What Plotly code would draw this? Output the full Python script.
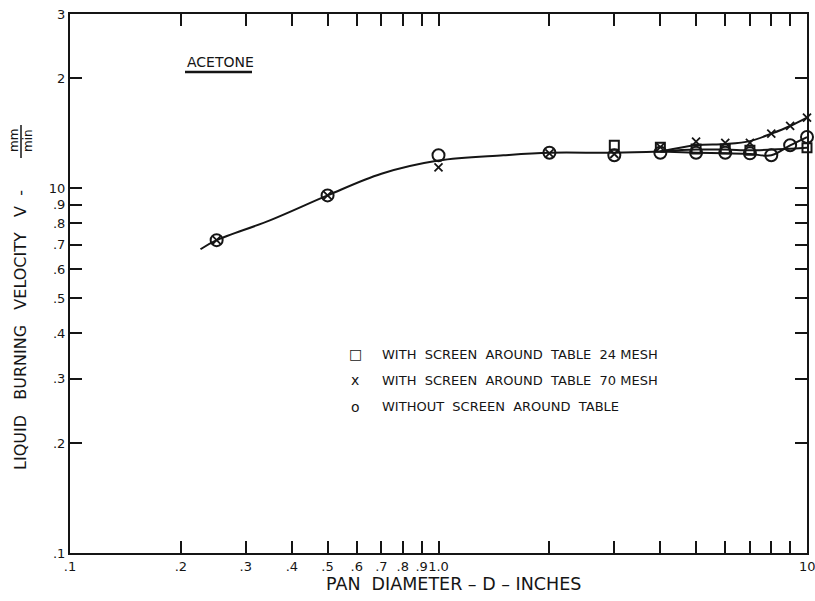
import plotly.graph_objects as go
import math

# ---- data ----
x_sq = [3, 4, 5, 6, 7, 10]
y_sq = [13.1, 12.95, 12.8, 12.8, 12.7, 12.9]

x_x = [0.25, 0.5, 1.0, 2.0, 3.0, 4.0, 5.0, 6.0, 7.0, 8.0, 9.0, 10.0]
y_x = [7.2, 9.55, 11.4, 12.45, 12.4, 12.95, 13.4, 13.3, 13.3, 14.1, 14.8, 15.6]

x_o = [0.25, 0.5, 1.0, 2.0, 3.0, 4.0, 5.0, 6.0, 7.0, 8.0, 9.0, 10.0]
y_o = [7.2, 9.55, 12.3, 12.5, 12.3, 12.5, 12.5, 12.5, 12.45, 12.3, 13.1, 13.8]

# fitted curve
curve_x = [0.226, 0.25, 0.35, 0.5, 0.7, 1.0, 1.5, 2.0, 3.0, 4.0]
curve_y = [6.8, 7.2, 8.17, 9.55, 10.95, 11.9, 12.3, 12.5, 12.5, 12.6]
br_x_x = [4.0, 5.0, 6.0, 7.0, 8.0, 9.0, 10.0]
br_x_y = [12.6, 13.1, 13.2, 13.45, 14.1, 14.8, 15.6]
br_sq_x = [4.0, 5.0, 6.0, 7.0, 8.0, 10.0]
br_sq_y = [12.6, 12.75, 12.75, 12.7, 12.75, 12.9]
br_o_x = [4.0, 5.0, 6.0, 7.0, 8.0, 9.0, 10.0]
br_o_y = [12.6, 12.5, 12.45, 12.4, 12.3, 13.1, 13.8]

x_tickvals = [0.1, 0.2, 0.3, 0.4, 0.5, 0.6, 0.7, 0.8, 0.9, 1.0, 2, 3, 4, 5, 6, 7, 8, 9, 10]
x_ticktext = [".1", ".2", ".3", ".4", ".5", ".6", ".7", ".8", ".9", "1.0", "", "", "", "", "", "", "", "", "10"]
y_tickvals = [1, 2, 3, 4, 5, 6, 7, 8, 9, 10, 20, 30]
y_ticktext = [".1", ".2", ".3", ".4", ".5", ".6", ".7", ".8", ".9", "10", "2", "3"]

legend_labels = ["WITH  SCREEN  AROUND  TABLE  24 MESH",
                 "WITH  SCREEN  AROUND  TABLE  70 MESH",
                 "WITHOUT  SCREEN  AROUND  TABLE"]
legend_symbols = ["\u25a1", "x", "o"]

INK = "#151515"
FONT = "DejaVu Sans"

fig = go.Figure()
for cx, cy in [(curve_x, curve_y), (br_x_x, br_x_y), (br_sq_x, br_sq_y), (br_o_x, br_o_y)]:
    fig.add_trace(go.Scatter(x=cx, y=cy, mode="lines", line=dict(color=INK, width=2, shape="spline"),
                             showlegend=False, hoverinfo="skip", cliponaxis=False))
fig.add_trace(go.Scatter(x=x_sq, y=y_sq, mode="markers", cliponaxis=False,
                         marker=dict(symbol="square-open", size=9, color=INK, line=dict(width=2)),
                         showlegend=False))
fig.add_trace(go.Scatter(x=x_o, y=y_o, mode="markers", cliponaxis=False,
                         marker=dict(symbol="circle-open", size=12, color=INK, line=dict(width=2)),
                         showlegend=False))
fig.add_trace(go.Scatter(x=x_x, y=y_x, mode="markers", cliponaxis=False,
                         marker=dict(symbol="x-thin-open", size=8, color=INK, line=dict(width=1.8)),
                         showlegend=False))

L, R, T, B = 70, 8, 14, 48
W, H = 815, 601
pw, ph = W - L - R, H - T - B

def px(xp):
    return (xp - L) / pw

def py(yp):
    return (H - B - yp) / ph

ann = []
# legend
for i, (s, lab) in enumerate(zip(legend_symbols, legend_labels)):
    yy = 354 + i * 26.5
    ann.append(dict(x=px(355), y=py(yy), xref="paper", yref="paper", text=s, showarrow=False,
                    xanchor="center", yanchor="middle", font=dict(family=FONT, size=14, color=INK)))
    ann.append(dict(x=px(380), y=py(yy), xref="paper", yref="paper", text=lab, showarrow=False,
                    xanchor="left", yanchor="middle", font=dict(family=FONT, size=13, color=INK)))
# last x tick label (at the right edge, plotly would drop it)
ann.append(dict(x=math.log10(x_tickvals[-1]), y=py(566), xref="x", yref="paper", text=x_ticktext[-1],
                showarrow=False, xanchor="center", yanchor="middle", font=dict(family=FONT, size=13, color=INK)))
# title word
ann.append(dict(x=px(185), y=py(62), xref="paper", yref="paper", text="ACETONE", showarrow=False,
                xanchor="left", yanchor="middle", font=dict(family=FONT, size=14, color=INK)))
# y-axis title
ann.append(dict(x=px(20), y=py(330), xref="paper", yref="paper",
                text="LIQUID   BURNING   VELOCITY   V  -",
                showarrow=False, textangle=-90, xanchor="center", yanchor="middle",
                font=dict(family=FONT, size=16, color=INK)))
ann.append(dict(x=px(14), y=py(141), xref="paper", yref="paper", text="mm", showarrow=False,
                textangle=-90, xanchor="center", yanchor="middle", font=dict(family=FONT, size=12, color=INK)))
ann.append(dict(x=px(28), y=py(141), xref="paper", yref="paper", text="min", showarrow=False,
                textangle=-90, xanchor="center", yanchor="middle", font=dict(family=FONT, size=12, color=INK)))
# x-axis title
ann.append(dict(x=px(453), y=py(584), xref="paper", yref="paper", text="PAN  DIAMETER \u2013 D \u2013 INCHES",
                showarrow=False, xanchor="center", yanchor="middle", font=dict(family=FONT, size=17.5, color=INK)))

shapes = [
    dict(type="line", xref="paper", yref="paper", x0=px(185), x1=px(252), y0=py(72), y1=py(72),
         line=dict(color=INK, width=2.5)),
    dict(type="line", xref="paper", yref="paper", x0=px(21), x1=px(21), y0=py(125), y1=py(158),
         line=dict(color=INK, width=1.5)),
]

fig.update_layout(
    width=W, height=H, margin=dict(l=L, r=R, t=T, b=B, autoexpand=False),
    paper_bgcolor="white", plot_bgcolor="white",
    font=dict(family=FONT, size=12, color=INK),
    annotations=ann, shapes=shapes, showlegend=False,
)
fig.update_xaxes(type="log", range=[-1, 1], tickvals=x_tickvals, ticktext=x_ticktext, tickangle=0,
                 ticks="inside", ticklen=12, tickwidth=2, tickcolor=INK, automargin=False,
                 showline=True, linewidth=2, linecolor=INK, mirror="ticks",
                 showgrid=False, zeroline=False, tickfont=dict(size=13))
fig.update_yaxes(type="log", range=[0, math.log10(30)], tickvals=y_tickvals, ticktext=y_ticktext,
                 ticks="inside", ticklen=12, tickwidth=2, tickcolor=INK, automargin=False,
                 showline=True, linewidth=2, linecolor=INK, mirror="ticks",
                 showgrid=False, zeroline=False, tickfont=dict(size=13))

fig.write_html("out.html")
